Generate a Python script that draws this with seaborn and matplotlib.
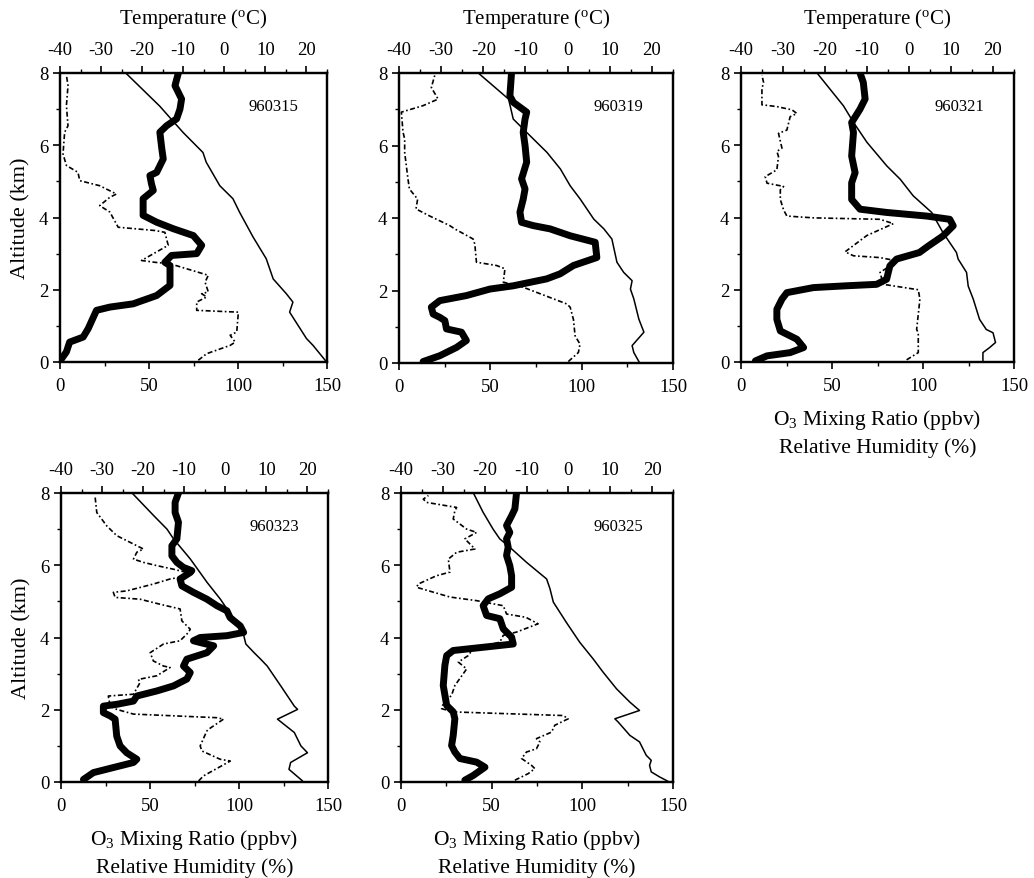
import numpy as np
import pandas as pd
import seaborn as sns
import matplotlib.pyplot as plt
from matplotlib.ticker import MultipleLocator

# ---- data: altitude (km) and values for each sounding ----
dates = ['960315', '960319', '960321', '960323', '960325']

# 960315
o3_alt_15 = [0.05, 0.28, 0.55, 0.69, 0.92, 1.43, 1.52, 1.61, 1.84, 2.12, 2.67, 2.76, 2.95, 3.0, 3.23, 3.5, 3.69, 3.87, 4.06, 4.52, 4.75, 4.93, 5.16, 5.25, 5.62, 5.94, 6.36, 6.54, 6.73, 7.0, 7.28, 7.65, 8.0]
o3_val_15 = [0.3, 3.6, 5.4, 13.0, 15.8, 20.5, 28.0, 41.1, 54.3, 61.8, 61.8, 58.9, 62.7, 76.8, 79.6, 74.9, 63.6, 54.3, 46.7, 46.7, 52.4, 51.4, 50.5, 54.3, 58.0, 57.1, 56.1, 59.9, 65.5, 67.4, 68.3, 64.6, 66.5]
rh_alt_15 = [0.05, 0.23, 0.46, 0.55, 0.74, 0.83, 1.38, 1.43, 1.66, 1.80, 1.89, 1.94, 2.21, 2.40, 2.72, 2.76, 2.81, 3.23, 3.59, 3.64, 3.73, 4.15, 4.33, 4.56, 4.65, 4.88, 5.02, 5.25, 5.44, 5.76, 6.36, 6.54, 7.10, 7.65, 7.94]
rh_val_15 = [77.7, 82.4, 95.6, 98.4, 95.6, 99.3, 100.2, 76.8, 76.8, 82.4, 79.6, 83.3, 81.5, 83.3, 61.8, 53.3, 45.8, 60.8, 58.9, 53.3, 32.7, 28.0, 22.3, 28.0, 31.7, 22.3, 11.1, 10.1, 3.6, 1.7, 2.6, 4.5, 3.6, 4.5, 3.6]
t_alt_15 = [0.0, 0.46, 0.65, 1.38, 1.66, 1.89, 2.3, 2.86, 3.46, 4.15, 4.52, 4.88, 5.53, 5.8, 6.35, 6.72, 7.08, 8.0]
t_val_15 = [24.9, 21.6, 20.0, 15.9, 16.7, 15.1, 11.9, 10.2, 7.0, 3.7, 2.1, -1.1, -4.4, -5.2, -10.0, -12.9, -15.7, -24.0]

# 960319
o3_alt_19 = [0.04, 0.2, 0.43, 0.62, 0.85, 0.94, 1.17, 1.26, 1.35, 1.54, 1.72, 1.86, 2.04, 2.13, 2.32, 2.46, 2.69, 2.91, 3.33, 3.51, 3.70, 3.79, 3.88, 4.16, 4.52, 4.80, 5.08, 5.54, 6.0, 6.36, 6.73, 6.92, 7.19, 7.37, 8.0]
o3_val_19 = [13.2, 22.3, 31.5, 36.9, 34.2, 26.0, 25.1, 22.3, 18.7, 17.7, 22.3, 36.9, 49.8, 62.6, 80.8, 88.2, 95.5, 108.3, 107.4, 93.7, 82.7, 73.5, 67.1, 66.2, 68.0, 69.0, 67.1, 69.9, 69.0, 68.0, 69.0, 69.9, 62.6, 60.7, 61.6]
rh_alt_19 = [0.04, 0.29, 0.52, 0.75, 1.2, 1.54, 1.63, 2.09, 2.23, 2.6, 2.69, 2.78, 3.28, 3.42, 3.7, 3.79, 4.06, 4.25, 4.52, 4.8, 5.08, 5.81, 6.18, 6.37, 6.92, 7.1, 7.28, 7.6, 7.94]
rh_val_19 = [92.7, 98.2, 99.1, 96.4, 95.5, 93.7, 91.8, 68.0, 57.1, 58.0, 53.4, 42.4, 41.5, 40.6, 30.5, 27.8, 16.6, 9.3, 10.2, 5.7, 4.9, 3.1, 3.1, 2.2, 1.3, 13.2, 21.4, 17.7, 19.6]
t_alt_19 = [0.0, 0.29, 0.48, 0.85, 1.21, 1.77, 2.04, 2.27, 2.5, 2.78, 3.42, 3.7, 3.97, 4.52, 4.89, 5.35, 5.81, 6.36, 6.73, 7.28, 7.56, 8.0]
t_val_19 = [17.1, 15.7, 15.3, 18.1, 16.9, 15.7, 14.9, 15.3, 13.3, 11.7, 10.5, 8.6, 6.2, 3.0, 0.6, -1.7, -4.9, -9.7, -12.9, -14.0, -16.8, -21.2]

# 960321
o3_alt_21 = [0.03, 0.17, 0.26, 0.4, 0.63, 0.86, 1.18, 1.46, 1.74, 1.92, 2.06, 2.11, 2.15, 2.29, 2.66, 2.85, 3.03, 3.21, 3.49, 3.77, 3.95, 4.04, 4.14, 4.23, 4.5, 4.96, 5.24, 5.7, 6.35, 6.63, 7.0, 7.28, 7.74, 8.0]
o3_val_21 = [7.9, 14.3, 27.0, 34.4, 30.7, 21.6, 19.7, 19.7, 22.5, 25.2, 39.8, 58.0, 74.5, 80.0, 81.8, 85.5, 98.0, 102.9, 111.0, 116.6, 114.7, 102.0, 80.0, 65.4, 60.8, 60.8, 62.7, 60.8, 61.8, 60.8, 65.4, 68.2, 67.2, 65.4]
rh_alt_21 = [0.06, 0.26, 0.81, 0.9, 1.74, 2.0, 2.15, 2.48, 2.66, 2.8, 2.89, 2.94, 3.05, 3.5, 3.83, 3.95, 3.99, 4.04, 4.21, 4.5, 4.77, 4.86, 4.95, 5.13, 5.32, 5.69, 5.83, 5.92, 6.33, 6.42, 6.79, 6.88, 6.98, 7.07, 7.12, 7.56, 7.74, 7.94]
rh_val_21 = [91.0, 97.4, 97.4, 96.5, 98.3, 97.4, 78.2, 76.4, 81.9, 85.5, 76.4, 61.8, 57.2, 69.1, 83.7, 76.4, 39.8, 25.2, 23.4, 21.6, 21.6, 23.4, 14.3, 13.3, 19.7, 20.6, 19.7, 22.5, 20.6, 25.2, 27.0, 30.7, 28.0, 19.7, 11.5, 11.5, 12.4, 11.5]
t_alt_21 = [0.0, 0.26, 0.4, 0.54, 0.81, 0.9, 1.18, 1.74, 2.1, 2.48, 2.85, 3.03, 3.58, 4.14, 4.6, 5.06, 5.43, 6.08, 6.63, 7.09, 8.0]
t_val_21 = [17.6, 17.6, 19.2, 20.6, 20.0, 18.4, 16.8, 15.3, 14.1, 13.7, 11.7, 11.3, 8.1, 5.4, 1.0, -2.1, -5.3, -10.0, -13.2, -15.6, -21.9]

# 960323
o3_alt_23 = [0.07, 0.26, 0.4, 0.54, 0.63, 0.81, 1.0, 1.27, 1.74, 1.83, 1.92, 2.1, 2.15, 2.24, 2.38, 2.52, 2.66, 2.85, 3.03, 3.21, 3.4, 3.58, 3.77, 3.86, 3.91, 4.0, 4.05, 4.14, 4.32, 4.55, 4.74, 4.88, 5.06, 5.25, 5.43, 5.62, 5.8, 5.85, 5.94, 6.08, 6.26, 6.54, 6.73, 7.19, 7.46, 7.74, 8.0]
o3_val_23 = [12.6, 18.2, 29.4, 40.7, 42.6, 36.9, 33.2, 31.3, 30.4, 27.6, 23.8, 23.8, 31.3, 40.7, 42.6, 53.8, 63.2, 70.7, 72.6, 68.8, 70.7, 82.0, 85.8, 78.2, 74.4, 78.2, 93.2, 102.6, 100.7, 95.0, 93.2, 87.6, 82.0, 74.4, 67.9, 66.9, 72.6, 73.5, 68.8, 65.1, 62.3, 62.3, 65.1, 66.0, 64.1, 64.1, 66.0]
rh_alt_23 = [0.03, 0.17, 0.58, 0.63, 0.86, 1.0, 1.41, 1.46, 1.74, 1.78, 1.88, 2.01, 2.1, 2.38, 2.43, 2.75, 2.84, 2.94, 3.17, 3.21, 3.35, 3.58, 3.82, 3.91, 4.14, 4.23, 4.46, 4.79, 4.92, 5.06, 5.11, 5.25, 5.29, 5.48, 5.62, 5.66, 5.8, 5.89, 5.99, 6.08, 6.17, 6.36, 6.45, 6.54, 6.82, 7.09, 7.46, 7.92]
rh_val_23 = [77.3, 80.1, 95.1, 89.4, 79.1, 78.2, 81.9, 82.9, 91.3, 87.6, 40.7, 31.3, 27.6, 26.6, 40.7, 44.4, 43.5, 53.8, 61.3, 57.6, 51.9, 50.1, 57.6, 66.9, 71.6, 72.6, 67.9, 66.9, 55.7, 44.4, 30.4, 29.4, 36.9, 51.9, 61.3, 66.0, 70.7, 63.2, 53.8, 46.3, 40.7, 42.6, 46.3, 42.6, 31.3, 25.7, 20.1, 19.1]
t_alt_23 = [0.03, 0.35, 0.54, 0.81, 1.0, 1.37, 1.74, 2.01, 2.1, 2.66, 3.21, 3.4, 3.58, 3.82, 4.05, 4.51, 5.06, 5.52, 6.17, 6.73, 7.0, 7.37, 8.0]
t_val_23 = [18.8, 15.5, 15.9, 20.0, 18.4, 16.8, 12.7, 17.6, 16.8, 13.5, 10.2, 8.6, 7.0, 5.0, 4.5, 2.1, -1.2, -4.4, -8.5, -12.6, -14.2, -17.4, -22.7]

# 960325
o3_alt_25 = [0.05, 0.18, 0.41, 0.55, 0.65, 0.83, 1.01, 1.29, 1.75, 1.94, 2.12, 2.67, 3.23, 3.5, 3.64, 3.73, 3.82, 4.01, 4.24, 4.52, 4.61, 4.88, 5.07, 5.21, 5.39, 5.71, 5.99, 6.27, 6.5, 6.73, 6.91, 7.1, 7.37, 7.56, 8.0]
o3_val_25 = [35.2, 39.8, 46.3, 41.7, 32.5, 29.7, 27.9, 28.8, 29.7, 28.8, 25.2, 23.3, 24.2, 25.2, 28.8, 45.4, 61.9, 61.0, 56.4, 54.5, 47.2, 45.3, 48.1, 54.5, 61.0, 61.0, 60.0, 58.2, 59.1, 58.2, 60.0, 58.2, 61.0, 62.8, 63.7]
rh_alt_25 = [0.05, 0.23, 0.37, 0.46, 0.65, 0.83, 0.92, 1.11, 1.2, 1.38, 1.57, 1.75, 1.84, 1.94, 2.03, 2.17, 2.4, 2.67, 3.13, 3.32, 3.5, 3.69, 3.87, 4.06, 4.15, 4.38, 4.56, 4.65, 4.88, 5.02, 5.12, 5.39, 5.48, 5.71, 5.81, 6.17, 6.36, 6.45, 6.73, 6.91, 7.0, 7.28, 7.51, 7.6, 7.74, 7.83, 7.93]
rh_val_25 = [62.8, 70.1, 73.8, 72.0, 66.5, 69.2, 74.7, 76.6, 74.7, 83.0, 84.8, 92.2, 89.4, 28.8, 22.4, 23.3, 27.9, 29.7, 36.2, 31.6, 37.1, 39.8, 54.5, 56.4, 63.7, 75.6, 68.8, 58.2, 56.4, 41.7, 27.0, 8.6, 9.5, 19.6, 27.0, 26.1, 30.7, 40.8, 35.2, 41.7, 36.2, 28.8, 29.7, 30.7, 14.1, 12.3, 15.1]
t_alt_25 = [0.02, 0.14, 0.28, 0.46, 0.6, 0.74, 1.11, 1.29, 1.66, 1.75, 1.98, 2.21, 2.58, 3.04, 3.41, 3.87, 4.42, 4.98, 5.35, 5.62, 6.08, 6.54, 6.73, 7.0, 7.47, 8.0]
t_val_25 = [23.8, 21.8, 19.8, 19.4, 19.8, 18.6, 17.0, 14.7, 11.9, 11.1, 17.0, 14.7, 11.5, 8.3, 5.9, 2.7, -0.5, -3.6, -4.4, -5.2, -10.0, -14.4, -16.4, -18.0, -20.4, -22.7]

o3_alt = [o3_alt_15, o3_alt_19, o3_alt_21, o3_alt_23, o3_alt_25]
o3_val = [o3_val_15, o3_val_19, o3_val_21, o3_val_23, o3_val_25]
rh_alt = [rh_alt_15, rh_alt_19, rh_alt_21, rh_alt_23, rh_alt_25]
rh_val = [rh_val_15, rh_val_19, rh_val_21, rh_val_23, rh_val_25]
t_alt = [t_alt_15, t_alt_19, t_alt_21, t_alt_23, t_alt_25]
t_val = [t_val_15, t_val_19, t_val_21, t_val_23, t_val_25]

# ---- style ----
sns.set_style('ticks')
plt.rcParams['font.family'] = ['Liberation Serif', 'DejaVu Serif']
plt.rcParams['mathtext.fontset'] = 'custom'
plt.rcParams['mathtext.rm'] = 'Liberation Serif'
plt.rcParams['mathtext.it'] = 'Liberation Serif:italic'
plt.rcParams['axes.unicode_minus'] = False
plt.rcParams['text.color'] = 'black'
plt.rcParams['axes.labelcolor'] = 'black'
plt.rcParams['axes.edgecolor'] = 'black'
plt.rcParams['xtick.color'] = 'black'
plt.rcParams['ytick.color'] = 'black'

W, H = 1034, 879
fig = plt.figure(figsize=(W / 100, H / 100), dpi=100)

# axes boxes in pixels: left, right, top, bottom
boxes = [(60, 327, 74, 363), (399, 673, 74, 364), (741, 1014, 74, 363),
         (61, 328, 494, 783), (401, 673, 494, 783)]
show_ylabel = [True, False, False, True, False]
show_toplabel = [True, True, True, False, False]
show_botlabel = [False, False, True, True, True]

for i, (l, r, t, b) in enumerate(boxes):
    ax = fig.add_axes([l / W, 1 - b / H, (r - l) / W, (b - t) / H])
    ax2 = ax.twiny()
    # keep ozone and RH drawn above the temperature curve
    ax2.set_zorder(ax.get_zorder() - 1)
    ax.patch.set_visible(False)

    sns.lineplot(x=t_val[i], y=t_alt[i], sort=False, estimator=None,
                 color='black', linewidth=1.1, ax=ax2)
    sns.lineplot(x=rh_val[i], y=rh_alt[i], sort=False, estimator=None,
                 color='black', linewidth=1.2, ax=ax)
    ax.lines[-1].set_dashes([3, 1.5, 1, 1.5])
    sns.lineplot(x=o3_val[i], y=o3_alt[i], sort=False, estimator=None,
                 color='black', linewidth=5, ax=ax,
                 solid_capstyle='round', solid_joinstyle='round')

    ax.set_xlim(0, 150)
    ax.set_ylim(0, 8)
    ax2.set_xlim(-40, 25)
    ax.xaxis.set_major_locator(MultipleLocator(50))
    ax.xaxis.set_minor_locator(MultipleLocator(25))
    ax.yaxis.set_major_locator(MultipleLocator(2))
    ax.yaxis.set_minor_locator(MultipleLocator(1))
    ax2.xaxis.set_major_locator(MultipleLocator(10))
    ax2.xaxis.set_minor_locator(MultipleLocator(5))

    for a in (ax, ax2):
        a.tick_params(which='major', direction='out', length=5, width=1.2, labelsize=13.5)
        a.tick_params(which='minor', direction='out', length=3, width=1.0)
        for s in a.spines.values():
            s.set_visible(True)
            s.set_linewidth(1.6)
    ax2.set_ylim(0, 8)
    ax2.set_ylabel('')
    ax2.tick_params(axis='x', pad=6)
    ax.tick_params(axis='x', pad=6)

    ax.set_xlabel('O$_3$ Mixing Ratio (ppbv)\nRelative Humidity (%)' if show_botlabel[i] else '',
                  fontsize=15.5, labelpad=9, linespacing=1.45)
    ax.set_ylabel('Altitude (km)' if show_ylabel[i] else '', fontsize=16, labelpad=6)
    ax2.set_xlabel(r'Temperature ($^{\rm o}$C)' if show_toplabel[i] else '',
                   fontsize=15, labelpad=13)

    ax.text(0.80, 0.885, dates[i], transform=ax.transAxes, ha='center', va='center',
            fontsize=12)

fig.savefig('out.png', dpi=100)
